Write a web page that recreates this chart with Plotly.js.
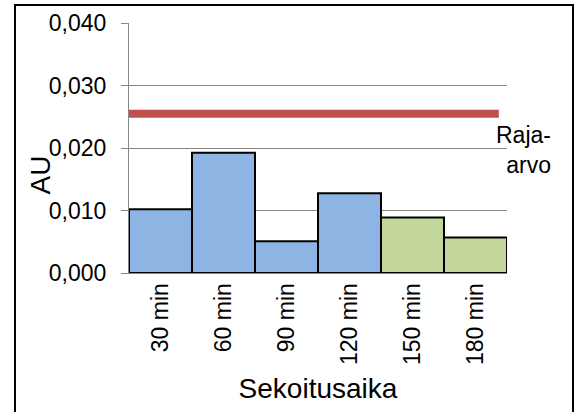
<!DOCTYPE html>
<html>
<head>
<meta charset="utf-8">
<script src="https://cdn.plot.ly/plotly-3.0.1.min.js"></script>
<style>html,body{margin:0;padding:0;background:#fff}#chart{width:579px;height:412px}</style>
</head>
<body>
<div id="chart"></div>
<script>
const categories = ["30 min", "60 min", "90 min", "120 min", "150 min", "180 min"];
const values = [0.0102, 0.01925, 0.0051, 0.01275, 0.0089, 0.0057];
const barColors = ["#8EB4E3", "#8EB4E3", "#8EB4E3", "#8EB4E3", "#C3D69B", "#C3D69B"];
const limitValue = 0.0255;
const limitX = [-0.5, 5.37];
const yTicks = [0, 0.01, 0.02, 0.03, 0.04];

const idx = categories.map((c, i) => i);
const font = "Liberation Sans, Arial, sans-serif";

const traces = [
  {
    type: "bar",
    x: idx,
    y: values,
    width: 1,
    marker: {color: barColors, line: {color: "#000000", width: 2}},
    hoverinfo: "skip",
    showlegend: false
  },
  {
    type: "scatter",
    mode: "lines",
    x: limitX,
    y: limitX.map(() => limitValue),
    line: {color: "#C0504D", width: 8},
    hoverinfo: "skip",
    showlegend: false
  }
];

const layout = {
  width: 579,
  height: 412,
  margin: {l: 129, r: 72, t: 23, b: 139},
  paper_bgcolor: "#ffffff",
  plot_bgcolor: "#ffffff",
  separators: ", ",
  font: {family: font, color: "#000000", size: 23},
  xaxis: {
    range: [-0.5, 5.5],
    tickvals: idx,
    ticktext: categories,
    tickangle: -90,
    showgrid: false,
    zeroline: false,
    showline: true,
    linecolor: "#868686",
    linewidth: 1,
    ticks: "",
    tickfont: {size: 23, family: font},
    title: {text: "Sekoitusaika", font: {size: 28, family: font}, standoff: 14}
  },
  yaxis: {
    range: [0, 0.04],
    tickvals: yTicks,
    tickformat: ".3f",
    showgrid: true,
    gridcolor: "#868686",
    gridwidth: 1,
    zeroline: false,
    showline: true,
    linecolor: "#868686",
    linewidth: 1,
    ticks: "outside",
    ticklen: 7,
    tickcolor: "#868686",
    ticklabelstandoff: 10,
    tickfont: {size: 23, family: font}
  },
  annotations: [
    {
      text: "AU", xref: "paper", yref: "paper", x: -0.233, y: 0.394,
      textangle: -90, showarrow: false, xanchor: "center", yanchor: "middle",
      font: {size: 28, family: font}
    },
    {
      text: "Raja-<br>arvo", xref: "paper", yref: "paper", x: 1.1217, y: 0.492,
      showarrow: false, xanchor: "right", yanchor: "middle", align: "right",
      font: {size: 23, family: font}
    }
  ],
  shapes: [
    {
      type: "rect", xref: "paper", yref: "paper",
      x0: -0.3016, x1: 1.1746, y0: -0.6, y1: 1.072,
      line: {color: "#000000", width: 2}, fillcolor: "rgba(0,0,0,0)", layer: "above"
    }
  ]
};

Plotly.newPlot("chart", traces, layout, {displayModeBar: false, staticPlot: true});
</script>
</body>
</html>
